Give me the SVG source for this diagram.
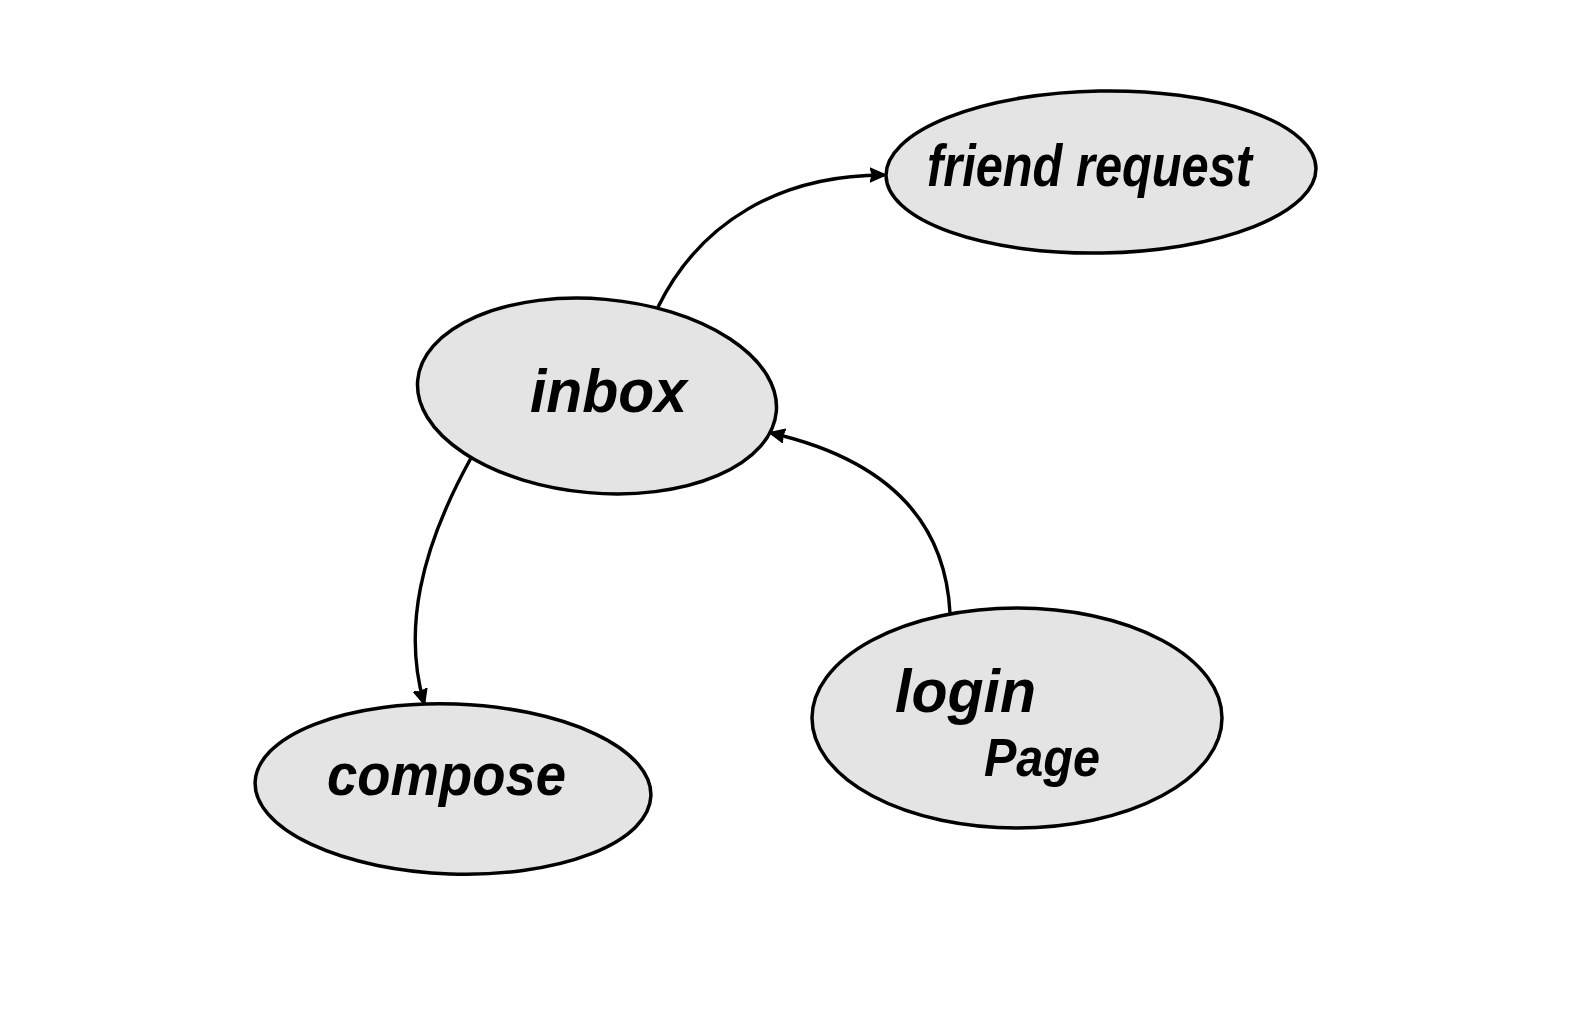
<svg xmlns="http://www.w3.org/2000/svg" width="1577" height="1028" viewBox="0 0 1577 1028">
<style>
.node ellipse{fill:#e4e4e4;stroke:#000;stroke-width:3.5}
.lbl{font-family:"Liberation Sans",Arial,sans-serif;font-weight:bold;font-style:italic;fill:#000}
.edge{fill:none;stroke:#000;stroke-width:3.4}
</style>
<defs>
<marker id="ah" viewBox="0 0 10 10" refX="9" refY="5" markerWidth="4.5" markerHeight="4.5" orient="auto" markerUnits="strokeWidth">
<path d="M0,0.5 L10,5 L0,9.5 L1.5,5 Z" fill="#000" stroke="#000" stroke-width="1" stroke-linejoin="round"/>
</marker>
</defs>
<rect width="1577" height="1028" fill="#fff"/>
<g id="edges">
<path class="edge" d="M658 307 C 700 222, 780 175, 884 175" marker-end="url(#ah)"/>
<path class="edge" d="M950 613 C 945 515, 880 458, 771 433" marker-end="url(#ah)"/>
<path class="edge" d="M471 458 C 420 550, 403 630, 424 703" marker-end="url(#ah)"/>
</g>
<g id="node-friend-request" class="node">
<ellipse cx="1101" cy="172" rx="215" ry="81" transform="rotate(-1 1101 172)"/>
<text class="lbl" x="927" y="186" font-size="60" textLength="325" lengthAdjust="spacingAndGlyphs">friend request</text>
</g>
<g id="node-inbox" class="node">
<ellipse cx="597" cy="396" rx="180" ry="97" transform="rotate(5 597 396)"/>
<text class="lbl" x="530" y="412" font-size="62" textLength="157" lengthAdjust="spacingAndGlyphs">inbox</text>
</g>
<g id="node-compose" class="node">
<ellipse cx="453" cy="789" rx="198" ry="85" transform="rotate(2 453 789)"/>
<text class="lbl" x="327" y="795" font-size="60" textLength="239" lengthAdjust="spacingAndGlyphs">compose</text>
</g>
<g id="node-login-page" class="node">
<ellipse cx="1017" cy="718" rx="205" ry="110"/>
<text class="lbl" x="895" y="712" font-size="62" textLength="141" lengthAdjust="spacingAndGlyphs">login</text>
<text class="lbl" x="984" y="776" font-size="54" textLength="116" lengthAdjust="spacingAndGlyphs">Page</text>
</g>
</svg>
